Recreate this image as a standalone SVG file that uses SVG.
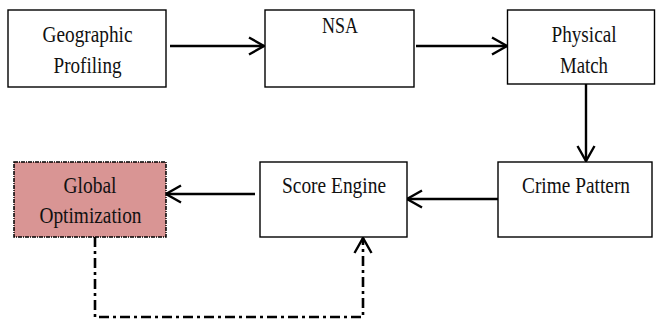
<svg xmlns="http://www.w3.org/2000/svg" width="657" height="324" viewBox="0 0 657 324">
<style>
.box{fill:#fff;stroke:#000;stroke-width:1.4}
.glob{fill:#d99594;stroke:#000;stroke-width:1.5;stroke-dasharray:4 1 1 1}
.t{font-family:'Liberation Serif','Times New Roman',Times,serif;font-size:23px;fill:#111;text-anchor:middle}
.c{fill:none;stroke:#000;stroke-width:2.4}
.dd{fill:none;stroke:#000;stroke-width:2.6;stroke-dasharray:10 4 3 4}
</style>
<defs>
<marker id="ah" markerUnits="userSpaceOnUse" viewBox="0 0 20 20" refX="17" refY="10" markerWidth="20" markerHeight="20" orient="auto">
<path d="M2,1.5 L17,10 L2,18.5" fill="none" stroke="#000" stroke-width="2.4"/>
</marker>
</defs>
<g id="connectors">
<line class="c" x1="170" y1="46" x2="264" y2="46" marker-end="url(#ah)"/>
<line class="c" x1="416" y1="46" x2="507" y2="46" marker-end="url(#ah)"/>
<line class="c" x1="586" y1="84" x2="586" y2="161" marker-end="url(#ah)"/>
<line class="c" x1="498" y1="199" x2="407" y2="199" marker-end="url(#ah)"/>
<line class="c" x1="255" y1="194" x2="166" y2="194" marker-end="url(#ah)"/>
<polyline class="dd" points="95,237 95,317 363,317 363,238" marker-end="url(#ah)"/>
</g>
<g id="geo">
<rect class="box" x="8" y="10" width="158" height="77"/>
<text class="t" x="87.5" y="41.7" textLength="90" lengthAdjust="spacingAndGlyphs">Geographic</text>
<text class="t" x="87.5" y="72.7" textLength="68" lengthAdjust="spacingAndGlyphs">Profiling</text>
</g>
<g id="nsa">
<rect class="box" x="265" y="10" width="149" height="77"/>
<text class="t" x="340" y="32.7" textLength="36" lengthAdjust="spacingAndGlyphs">NSA</text>
</g>
<g id="physical">
<rect class="box" x="507.5" y="10" width="147" height="74"/>
<text class="t" x="584" y="41.7" textLength="65" lengthAdjust="spacingAndGlyphs">Physical</text>
<text class="t" x="584" y="72.7" textLength="48" lengthAdjust="spacingAndGlyphs">Match</text>
</g>
<g id="crime">
<rect class="box" x="498" y="162" width="154" height="75"/>
<text class="t" x="576" y="193.3" textLength="108" lengthAdjust="spacingAndGlyphs">Crime Pattern</text>
</g>
<g id="score">
<rect class="box" x="260" y="162" width="147" height="75"/>
<text class="t" x="334" y="193.3" textLength="104" lengthAdjust="spacingAndGlyphs">Score Engine</text>
</g>
<g id="global">
<rect class="glob" x="14" y="162" width="152" height="75"/>
<text class="t" x="90" y="193.3" textLength="53" lengthAdjust="spacingAndGlyphs">Global</text>
<text class="t" x="90.5" y="223.3" textLength="102" lengthAdjust="spacingAndGlyphs">Optimization</text>
</g>
</svg>
